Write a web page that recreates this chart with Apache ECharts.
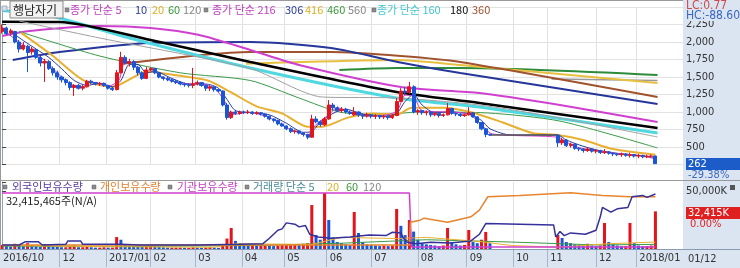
<!DOCTYPE html>
<html><head><meta charset="utf-8">
<script src="https://cdn.jsdelivr.net/npm/echarts@6/dist/echarts.min.js"></script>
<style>html,body{margin:0;padding:0;background:#fff}#c{width:740px;height:268px}</style>
</head><body><div id="c"></div>
<script>
// ---------- DATA ----------
// trading-day index (0 = late Oct 2016), open, close, low, high  (KRW)
const candles = [
[0,2150,2200,2120,2250],[2,2200,2120,2100,2220],[4,2130,2160,2090,2190],[6,2150,2000,1980,2160],
[8,2000,1900,1850,2030],[10,1900,1950,1880,2000],[12,1940,1850,1570,1960],[14,1860,1900,1820,1930],
[16,1890,1780,1760,1900],[18,1780,1700,1650,1800],[20,1700,1720,1430,1760],[22,1720,1620,1600,1740],
[24,1620,1560,1520,1650],[26,1560,1500,1460,1590],[28,1500,1460,1420,1520],[30,1460,1420,1380,1480],
[32,1420,1350,1310,1440],[34,1350,1380,1230,1400],[36,1380,1340,1320,1400],[38,1340,1360,1310,1390],
[40,1360,1440,1350,1460],[42,1440,1420,1400,1460],[44,1420,1400,1380,1430],[46,1400,1410,1370,1430],
[48,1410,1380,1360,1420],[50,1380,1340,1320,1390],[52,1340,1320,1300,1360],[54,1320,1560,1310,1600],
[56,1560,1780,1550,1860],[58,1780,1700,1680,1810],[60,1700,1720,1650,1760],[62,1720,1640,1600,1740],
[64,1640,1560,1520,1660],[66,1560,1480,1460,1580],[68,1480,1600,1470,1640],[70,1600,1620,1580,1640],
[72,1620,1560,1540,1630],[74,1560,1500,1480,1570],[76,1500,1480,1450,1510],[78,1480,1460,1440,1500],
[80,1460,1440,1420,1480],[82,1440,1420,1400,1460],[84,1420,1400,1380,1440],[86,1400,1390,1360,1420],
[88,1390,1380,1350,1410],[90,1380,1400,1340,1630],[92,1400,1420,1380,1450],[94,1420,1380,1360,1430],
[96,1380,1340,1300,1390],[98,1340,1360,1300,1380],[100,1360,1320,1290,1370],[102,1320,1300,1280,1330],
[104,1300,1100,1080,1310],[106,1100,920,890,1130],[108,920,1000,900,1020],[110,1000,980,960,1030],
[112,980,1000,960,1020],[114,1000,990,970,1020],[116,990,1000,970,1030],[118,1000,980,960,1010],
[120,980,990,960,1010],[122,990,970,950,1000],[124,970,940,920,980],[126,940,900,880,950],
[128,900,880,850,910],[130,880,830,810,890],[132,830,800,790,850],[134,800,760,740,810],
[136,760,720,700,780],[138,720,730,690,750],[140,730,700,680,740],[142,700,680,650,710],
[144,680,640,610,690],[146,640,900,630,960],[148,900,860,840,940],[150,860,820,790,880],
[152,820,900,800,930],[154,900,1100,890,1170],[156,1100,1060,1020,1130],[158,1060,1020,1000,1080],
[160,1020,1040,990,1070],[162,1040,1000,980,1060],[164,1000,980,960,1020],[166,960,1000,940,1070],
[168,1000,960,930,1010],[170,960,940,900,980],[172,940,960,920,990],[174,960,940,910,970],
[176,940,950,900,970],[178,950,930,900,960],[180,930,940,900,960],[182,940,920,890,950],
[184,920,950,900,970],[186,950,1150,940,1200],[188,1150,1300,1140,1340],[190,1300,1280,1240,1360],
[192,1280,1360,1260,1430],[194,1360,1000,980,1380],[196,1000,1020,960,1040],[198,1020,990,960,1030],
[200,990,1000,950,1020],[202,1000,960,930,1010],[204,960,980,940,1000],[206,980,950,920,990],
[208,950,960,930,980],[210,960,1050,950,1130],[212,1050,980,960,1060],[214,980,970,940,990],
[216,970,950,930,980],[218,950,960,930,970],[220,960,990,950,1070],[222,990,930,920,1000],
[224,930,850,830,940],[226,850,760,740,860],[228,760,680,640,770],[230,680,670,660,690],
[262,670,560,500,670],[264,560,600,530,630],[266,600,520,500,610],[268,520,540,490,560],
[270,540,480,460,550],[272,480,470,440,500],[274,470,450,420,480],[276,450,470,430,500],
[278,470,440,420,480],[280,440,450,410,470],[282,450,420,400,460],[284,420,430,400,470],
[286,430,410,390,440],[288,410,400,370,420],[290,400,390,370,410],[292,390,400,360,420],
[294,400,380,360,410],[296,380,390,350,420],[298,390,370,350,400],[300,370,380,340,400],
[302,380,360,340,390],[304,360,370,340,390],[306,370,371,350,390],[308,371,262,262,375]
];
// trading halt: price unchanged
const haltPrice = [[230,670],[262,670]];
// volume (thousand shares), one per candle above
const volumes = [
3500,2500,2000,4500,3500,2500,5000,3000,2500,2000,4000,
2500,2000,1800,1500,1500,2500,3000,1500,1500,2000,1500,1200,1200,1500,1200,1200,
10300,8000,4000,3000,2500,2000,1800,2500,3000,2000,
1800,1500,1200,1200,1200,1200,1000,1000,1500,1200,1000,1200,1500,1200,1000,4000,
9000,18100,7000,5000,4000,3500,3500,3000,3000,3000,2800,2500,3000,3500,3500,4000,4000,3500,4500,5000,
37900,12000,8000,48300,25000,10000,6000,5000,4000,3500,31900,13800,6000,4000,3500,3000,2500,3000,2500,3000,
34500,20000,12000,25000,15000,8000,5000,4000,3500,3000,2500,3000,18100,6000,4000,3000,3500,16400,6000,5000,8000,14700,5000,
12000,9500,6000,5000,4000,3500,3000,4500,3000,2500,3000,22400,6000,4000,3000,2500,2500,22400,5000,3000,2500,2500,3000,32415
];
// price moving averages  [day, value]
const ma5   = [[0,2180],[8,2000],[14,1880],[20,1740],[26,1560],[32,1400],[38,1360],[42,1430],[50,1370],[55,1450],[58,1720],[62,1700],[66,1520],[70,1610],[76,1490],[86,1400],[92,1410],[100,1340],[105,1150],[108,960],[116,995],[126,920],[134,780],[144,670],[148,820],[154,960],[158,1060],[166,970],[176,940],[186,1010],[190,1240],[194,1220],[198,1020],[210,1000],[220,970],[226,820],[230,700],[236,670],[262,640],[266,570],[272,490],[282,440],[292,400],[302,370],[308,330]];
const ma10  = [[4,2150],[10,2020],[16,1900],[22,1780],[28,1620],[34,1450],[40,1380],[46,1410],[52,1360],[56,1450],[60,1680],[64,1680],[68,1560],[72,1580],[80,1480],[88,1400],[96,1400],[102,1340],[106,1180],[110,1020],[118,990],[126,960],[134,840],[142,710],[146,720],[150,860],[156,980],[162,1040],[170,970],[180,940],[186,980],[190,1150],[194,1250],[198,1100],[204,990],[212,1000],[220,970],[226,880],[230,760],[240,670],[262,670],[266,600],[272,530],[280,460],[290,410],[300,380],[308,350]];
const ma20  = [[9,2130],[24,1800],[38,1460],[52,1360],[61,1480],[68,1580],[83,1520],[97,1450],[108,1280],[120,1080],[132,980],[144,790],[151,790],[163,920],[175,980],[186,960],[193,1060],[208,1060],[222,990],[236,850],[250,700],[262,670],[274,600],[288,470],[308,390]];
const ma60  = [[8,2150],[46,1800],[84,1560],[117,1450],[140,1200],[159,1000],[178,960],[197,1000],[229,986],[263,870],[309,486]];
const ma120 = [[8,2300],[46,2057],[117,1620],[151,1214],[186,1200],[225,1100],[263,914],[309,643]];
const ma160 = [[0,2450],[23,2371],[60,2057],[117,1629],[186,1200],[225,1071],[309,700]];
const ma180 = [[0,2290],[27,2286],[70,2029],[117,1714],[186,1286],[225,1129],[309,771]];
const ma216 = [[0,2086],[13,2157],[46,2229],[70,2200],[93,2100],[117,1886],[140,1671],[188,1357],[225,1271],[263,1100],[309,857]];
const ma306 = [[5,1743],[27,1857],[70,1986],[117,2000],[155,1914],[189,1700],[216,1557],[309,1114]];
const ma360 = [[56,1686],[117,1857],[155,1857],[188,1800],[216,1714],[309,1214]];
const ma416 = [[115,1690],[126,1700],[186,1743],[216,1671],[309,1414]];
const ma460 = [[159,1600],[186,1629],[216,1629],[309,1529]];
const ma560 = [[259,1470],[309,1450]];
// holdings (relative scale 0-100)
const foreignHold = [[0,6],[8,6],[11,11],[17,11],[19,6],[30,7],[31,12],[37,12],[38,7],[56,7],[65,6],[93,6],[112,7],[123,8],[126,16],[130,28],[132,30],[134,39],[138,37],[140,33],[143,35],[145,22],[149,18],[155,16],[164,18],[173,21],[181,20],[184,25],[188,24],[189,17],[191,10],[195,8],[202,10],[211,9],[221,12],[225,22],[228,38],[260,36],[261,18],[263,26],[265,20],[268,24],[275,22],[280,28],[282,48],[283,62],[287,55],[290,60],[295,62],[297,78],[302,80],[304,77],[308,82]];
const personHold  = [[0,6],[192,6],[192.5,40],[197,43],[199,46],[210,40],[221,48],[225,58],[229,78],[244,80],[268,84],[283,80],[296,78],[308,78]];
const instHold    = [[0,83.6],[192,83.6],[193,3],[308,3]];
// volume moving averages (thousand shares)
const vma20 = [[0,3000],[50,2000],[100,1500],[110,4500],[146,4000],[160,10000],[186,9000],[200,10000],[225,6500],[240,3000],[262,1500],[285,4500],[308,6000]];
const vma60 = [[0,2500],[60,2200],[120,3000],[160,5000],[200,8000],[240,6000],[280,3500],[308,4000]];
// axis ticks
const monthDays   = [27,49,70,91,113,133,153,174,196,219,241,257,280,299];
const monthLabels = ['12','2017/01','02','03','04','05','06','07','08','09','10','11','12','2018/01'];
const firstLabel  = '2016/10';
const priceTicks  = [500,750,1000,1250,1500,1750,2000,2250];

// ---------- CHART ----------
const FONT = "'Noto Sans CJK KR','Noto Sans',sans-serif";
const NUM = "'Liberation Sans Narrow','DejaVu Sans Condensed','Liberation Sans',sans-serif";
const labelMap = {}; labelMap[-1] = firstLabel;
monthDays.forEach((d,i)=>labelMap[d]=monthLabels[i]);
const fmt = v => v.toLocaleString('en-US');
const volData = candles.map((c,i)=>({value:[c[0],volumes[i]],
  itemStyle:{color:(i>0 && volumes[i]<volumes[i-1])?'#1a55d6':'#e3151b'}}));

function maLine(data,color,width,name){
  return {type:'line',name:name,xAxisIndex:0,yAxisIndex:0,data:data,showSymbol:false,smooth:0.25,
    lineStyle:{color:color,width:width},z:3,silent:true};
}
function lowLine(data,color,width,yi){
  return {type:'line',xAxisIndex:1,yAxisIndex:yi,data:data,showSymbol:false,
    lineStyle:{color:color,width:width},z:4,silent:true};
}

const chart = echarts.init(document.getElementById('c'));
const txt = (x,y,s,color,size,font,extra)=>Object.assign({type:'text',x:x,y:y,z:110,
  style:{text:s,fill:color,font:(size||11)+'px '+(font||FONT),textVerticalAlign:'middle'}},extra||{});
const sq = (x,y,c)=>({type:'rect',z:110,shape:{x:x,y:y,width:4,height:4},style:{fill:c||'#8a8a8a',stroke:'#666',lineWidth:0.5}});

chart.setOption({
  animation:false,
  backgroundColor:'#ffffff',
  grid:[{left:0,right:57,top:7,height:157.5},{left:0,right:57,top:182,height:67}],
  xAxis:[
    {type:'value',gridIndex:0,min:-1,max:321,axisLine:{show:false},
     axisTick:{show:false,customValues:monthDays},axisLabel:{show:false,customValues:monthDays},
     splitLine:{show:true,lineStyle:{color:'#e2e2e2',width:1}}},
    {type:'value',gridIndex:1,min:-1,max:321,axisLine:{show:false},
     axisTick:{show:true,length:18,customValues:monthDays,lineStyle:{color:'#aab6c8'}},
     axisLabel:{customValues:[-1].concat(monthDays),formatter:v=>labelMap[v]||'',align:'left',
       padding:[0,0,0,3],margin:4,color:'#333',fontSize:11,fontFamily:NUM},
     splitLine:{show:true,lineStyle:{color:'#e2e2e2',width:1}}}
  ],
  yAxis:[
    {type:'value',gridIndex:0,position:'right',min:250,max:2500,interval:250,
     axisLine:{show:true,lineStyle:{color:'#8fa3bf'}},
     axisTick:{show:true,length:4,lineStyle:{color:'#444'}},
     axisLabel:{margin:3,color:'#333',fontSize:11,fontFamily:NUM,
       formatter:v=>priceTicks.indexOf(v)>=0?fmt(v):''},
     splitLine:{show:true,lineStyle:{color:'#e2e2e2'}}},
    {type:'value',gridIndex:1,position:'right',min:0,max:57759,interval:50000,
     axisLine:{show:true,lineStyle:{color:'#8fa3bf'}},
     axisTick:{show:true,length:4,lineStyle:{color:'#444'}},
     axisLabel:{margin:3,color:'#333',fontSize:11,fontFamily:NUM,showMinLabel:false,
       formatter:v=>v===50000?'50,000K':''},
     splitLine:{show:false}},
    {type:'value',gridIndex:1,min:0,max:100,show:false}
  ],
  series:[
    maLine(ma560,'#9a9a9a',1.5),
    maLine(ma460,'#2e8b3a',2),
    maLine(ma416,'#e8c040',2),
    maLine(ma360,'#a0522d',2),
    maLine(ma306,'#26369a',2),
    maLine(ma216,'#d040d0',2),
    maLine(ma160,'#50d8e0',3),
    maLine(ma180,'#000000',2.5),
    maLine(ma120,'#a0a0a0',1),
    maLine(ma60,'#3a9a48',1),
    maLine(ma20,'#e8b030',2),
    {type:'line',xAxisIndex:0,yAxisIndex:0,data:haltPrice,showSymbol:false,lineStyle:{color:'#555',width:1.5},z:4},
    {type:'candlestick',xAxisIndex:0,yAxisIndex:0,data:candles,encode:{x:0,y:[1,2,3,4]},barWidth:3.6,z:5,
     itemStyle:{color:'#e3151b',color0:'#1a55d6',borderColor:'#e3151b',borderColor0:'#1a55d6',borderWidth:1}},
    maLine(ma10,'#2a3a9c',1),
    maLine(ma5,'#d040c8',1),
    {type:'bar',xAxisIndex:1,yAxisIndex:1,data:volData,barWidth:3,z:3},
    lowLine(vma60,'#3a9a48',1,1),
    lowLine(vma20,'#e8b030',1,1),
    lowLine(instHold,'#d040d0',1.5,2),
    lowLine(personHold,'#e8842c',1.5,2),
    lowLine(foreignHold,'#35309a',1.5,2)
  ],
  graphic:[
    {type:'rect',z:-1,shape:{x:683,y:0,width:57,height:250},style:{fill:'#dbe5f2'}},
    {type:'rect',z:-1,shape:{x:0,y:250,width:740,height:18},style:{fill:'#dbe5f2'}},
    {type:'line',z:100,shape:{x1:0,y1:0.5,x2:683,y2:0.5},style:{stroke:'#9a9a9a'}},
    {type:'line',z:100,shape:{x1:0.5,y1:0,x2:0.5,y2:250},style:{stroke:'#9a9a9a'}},
    {type:'line',z:100,shape:{x1:0,y1:180.5,x2:740,y2:180.5},style:{stroke:'#9a9a9a'}},
    {type:'line',z:100,shape:{x1:0,y1:249.5,x2:740,y2:249.5},style:{stroke:'#8a9ab2'}},
    // top legend
    {type:'rect',z:109,shape:{x:2,y:6,width:5,height:5},style:{fill:'#cfe0f0',stroke:'#7a8aa0',lineWidth:0.6}},
    {type:'rect',z:109,shape:{x:10,y:1,width:53,height:17},style:{fill:'#f2f2f2',stroke:'#8a8a8a',lineWidth:1}},
    txt(13,10,'행남자기','#222',12),
    sq(65,8), txt(70,10,'종가 단순 5','#c040c0'), txt(135,10,'10','#2a3a9a'), txt(152,10,'20','#e0b020'),
    txt(168,10,'60','#3a9a3a'), txt(183,10,'120','#888'),
    sq(204,8), txt(212,10,'종가 단순 216','#c040c0'), txt(285,10,'306','#2a3a9a'), txt(305,10,'416','#e0b020'),
    txt(327,10,'460','#3a9a3a'), txt(348,10,'560','#888'),
    sq(372,8), txt(377,10,'종가 단순 160','#40c8d0'), txt(450,10,'180','#111'), txt(472,10,'360','#a0522d'),
    // right top labels
    {type:'rect',z:105,shape:{x:684,y:0,width:56,height:21},style:{fill:'#dbe5f2'}},
    txt(686,6,'LC:0.77','#d04848',12,NUM), txt(686,16,'HC:-88.60','#3a66c4',12,NUM),
    {type:'rect',z:108,shape:{x:686,y:158,width:54,height:12},style:{fill:'#1c5cc8'}},
    txt(688,164.5,'262','#fff',11,NUM), txt(688,175,'-29.38%','#3a66c4',11,NUM),
    // lower legend
    sq(3,185), txt(12,187,'외국인보유수량','#5a3aa0'),
    sq(92,185), txt(100,187,'개인보유수량','#e08030'),
    sq(168,185), txt(177,187,'기관보유수량','#c040c0'),
    sq(245,185), txt(253,187,'거래량 단순 5','#4a8a9a'), txt(327,187,'20','#e0b020'),
    txt(346,187,'60','#3a9a3a'), txt(363,187,'120','#888'),
    txt(6,201,'32,415,465주(N/A)','#222',11),
    {type:'rect',z:109,shape:{x:730,y:185,width:5,height:5},style:{fill:'#555'}},
    {type:'rect',z:108,shape:{x:686,y:207,width:54,height:12},style:{fill:'#e02020'}},
    txt(688,213.5,'32,415K','#fff',11,NUM), txt(690,224,'0.00%','#e02020',11,NUM),
    txt(688,259,'01/12','#333',11,NUM)
  ]
});
</script></body></html>
